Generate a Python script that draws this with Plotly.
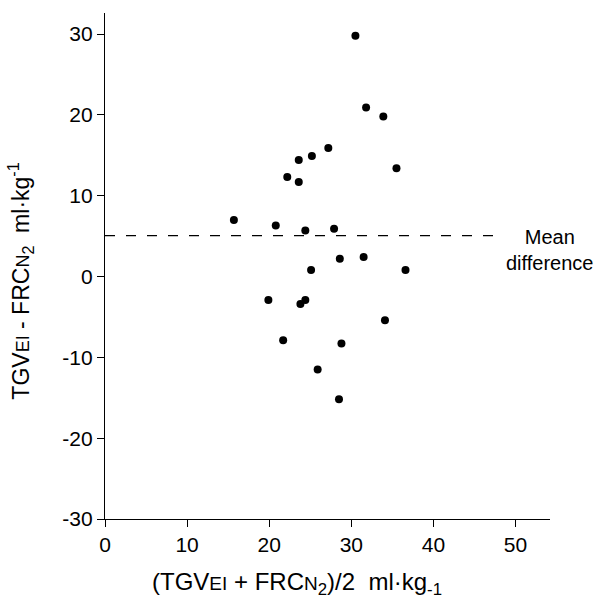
import numpy as np
import plotly.graph_objects as go

# Bland-Altman data: mean of the two methods (x) and their difference (y)
mean_values = [30.5, 31.8, 33.9, 27.2, 25.2, 23.6, 22.2, 23.6, 35.5, 15.7, 20.8, 24.4, 27.9,
               28.6, 31.5, 25.1, 36.6, 19.9, 24.4, 23.8, 34.1, 21.7, 28.8, 25.9, 28.5]
differences = [29.8, 20.9, 19.8, 15.9, 14.9, 14.4, 12.3, 11.7, 13.4, 7.0, 6.3, 5.7, 5.9,
               2.2, 2.4, 0.8, 0.8, -2.9, -2.9, -3.4, -5.4, -7.9, -8.3, -11.5, -15.2]
x_ticks = [0, 10, 20, 30, 40, 50]
y_ticks = [-30, -20, -10, 0, 10, 20, 30]
y_tick_labels = ["-30", "-20", "-10", "0", "10", "20", "30"]
mean_label = "Mean<br>difference"

mean_diff = float(np.mean(differences))

FONT = "Liberation Sans, Arial, Helvetica, sans-serif"
sm = "<span style='font-size:18px'>{}</span>"
smx = "<span style='font-size:19px'>{}</span>"

fig = go.Figure()
fig.add_trace(go.Scatter(
    x=[0, 48.3], y=[mean_diff, mean_diff], mode="lines",
    line=dict(color="black", width=1.2, dash="10px,11px"),
    hoverinfo="skip", showlegend=False))
fig.add_trace(go.Scatter(
    x=mean_values, y=differences, mode="markers",
    marker=dict(color="black", size=8, line=dict(width=0)),
    showlegend=False))

fig.add_annotation(x=0.998, y=mean_diff, xref="paper", yref="y", text=mean_label,
                   showarrow=False, xanchor="center", yanchor="middle", yshift=-14,
                   font=dict(family=FONT, size=20, color="black"), align="center")

fig.add_annotation(x=0.432, y=-0.093, xref="paper", yref="paper",
                   text="(TGV" + smx.format("EI") + " + FRC" + smx.format("N")
                        + "<sub>2</sub>)/2  ml·kg<sub>-1</sub>",
                   showarrow=False, xanchor="center", yanchor="top",
                   font=dict(family=FONT, size=24, color="black"))
fig.add_annotation(x=-0.19, y=0.47, xref="paper", yref="paper",
                   text="TGV" + sm.format("EI") + " - FRC" + sm.format("N")
                        + "<sub>2</sub>  ml·kg<sup>-1</sup>",
                   showarrow=False, xanchor="center", yanchor="middle", textangle=-90,
                   font=dict(family=FONT, size=23, color="black"))

fig.update_layout(
    width=606, height=610,
    margin=dict(l=105, r=56, t=13, b=91),
    paper_bgcolor="white", plot_bgcolor="white",
    font=dict(family=FONT, color="black"),
    xaxis=dict(range=[0, 54.2], tickvals=x_ticks, ticks="outside", ticklen=7,
               tickwidth=1, tickcolor="black", showline=True, linecolor="black",
               linewidth=1.2, showgrid=False, zeroline=False, automargin=False,
               tickfont=dict(size=21, family=FONT)),
    yaxis=dict(range=[-30, 32.6], tickvals=y_ticks, ticktext=y_tick_labels,
               ticks="outside", ticklen=7,
               tickwidth=1, tickcolor="black", showline=True, linecolor="black",
               linewidth=1.2, showgrid=False, zeroline=False, automargin=False,
               tickfont=dict(size=21, family=FONT)),
)

fig.write_html("out.html", config={"displayModeBar": False},
               post_script="document.body.style.margin='0';")
